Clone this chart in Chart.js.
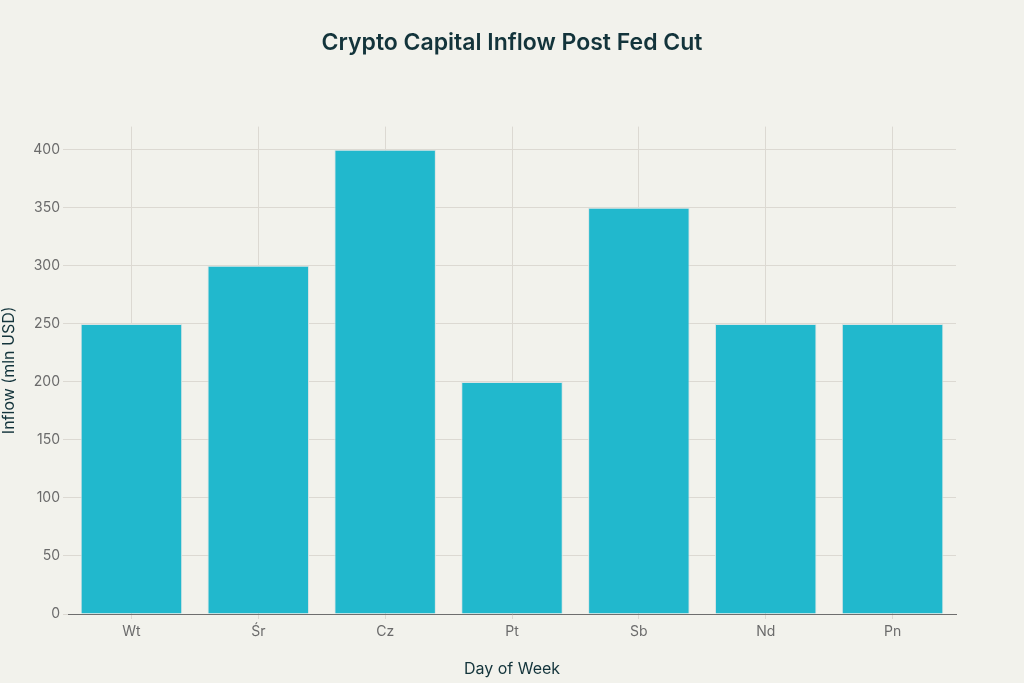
<!DOCTYPE html>
<html><head><meta charset="utf-8">
<script src="https://cdn.jsdelivr.net/npm/chart.js@4/dist/chart.umd.min.js"></script>
<style>html,body{margin:0;padding:0;background:#F2F2EC;}#wrap{width:1024px;height:683px;}</style>
</head><body><div id="wrap"><canvas id="c" width="1024" height="683"></canvas></div>
<script>
const categories = ["Wt", "Śr", "Cz", "Pt", "Sb", "Nd", "Pn"];
const inflow = [250, 300, 400, 200, 350, 250, 250];
const yTicks = [0, 50, 100, 150, 200, 250, 300, 350, 400];
const titleText = "Crypto Capital Inflow Post Fed Cut";
const xTitle = "Day of Week";
const yTitle = "Inflow (mln USD)";

const bg = {id:'bg', beforeDraw(c){const x=c.ctx;x.save();x.fillStyle='#F2F2EC';x.fillRect(0,0,c.width,c.height);x.restore();}};
new Chart(document.getElementById('c'), {
  type: 'bar',
  data: { labels: categories, datasets: [{ data: inflow, backgroundColor: '#21B8CD', borderColor: '#D9E4E4', borderWidth: 1, barPercentage: 0.8, categoryPercentage: 1 }] },
  options: {
    responsive: false, animation: false, devicePixelRatio: 1,
    layout: { padding: 0 },
    plugins: {
      legend: { display: false }, tooltip: { enabled: false },
      title: { display: true, text: titleText, color: '#13343B', font: { family: 'Inter', size: 23, weight: '600' }, padding: { top: 29, bottom: 70 } }
    },
    scales: {
      x: {
        grid: { color: '#DCD9D2', tickColor: '#DCD9D2', tickLength: 5, offset: false },
        border: { color: '#6E6E6E', width: 1 },
        ticks: { color: '#6B6B6B', font: { family: 'Inter', size: 14 }, padding: 4 },
        title: { display: true, text: xTitle, color: '#13343B', font: { family: 'Inter', size: 16 }, padding: { top: 12 } },
        afterFit(s){ s.height = 69; }
      },
      y: {
        min: 0, max: 420,
        afterBuildTicks(s){ s.ticks = yTicks.map(v => ({value: v})); },
        grid: { color: '#DCD9D2', tickColor: '#DCD9D2', tickLength: 5 },
        border: { display: false },
        ticks: { color: '#6B6B6B', font: { family: 'Inter', size: 14 }, padding: 3 },
        title: { display: true, text: yTitle, color: '#13343B', font: { family: 'Inter', size: 16 }, padding: 0 },
        afterFit(s){ s.width = 68; }
      },
      yRight: {
        position: 'right', min: 0, max: 420,
        grid: { display: false }, border: { display: false }, ticks: { display: false },
        afterFit(s){ s.width = 68; }
      }
    }
  },
  plugins: [bg]
});
</script></body></html>
